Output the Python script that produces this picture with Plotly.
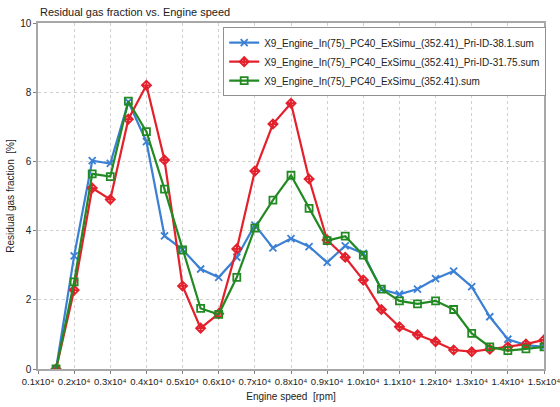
import plotly.graph_objects as go

# Engine speed sample points [rpm]
speed = [1500, 2000, 2500, 3000, 3500, 4000, 4500, 5000, 5500, 6000, 6500, 7000,
         7500, 8000, 8500, 9000, 9500, 10000, 10500, 11000, 11500, 12000, 12500,
         13000, 13500, 14000, 14500, 15000]

# Residual gas fraction [%] per configuration
rgf_pri_38_1 = [0.0, 3.27, 6.02, 5.94, 7.72, 6.57, 3.85, 3.45, 2.89, 2.65, 3.23, 4.16,
                3.50, 3.77, 3.54, 3.08, 3.56, 3.34, 2.30, 2.16, 2.31, 2.61, 2.83,
                2.38, 1.51, 0.86, 0.69, 0.64]
rgf_pri_31_75 = [0.0, 2.28, 5.23, 4.90, 7.22, 8.20, 6.04, 2.40, 1.18, 1.60, 3.47, 5.72,
                 7.08, 7.68, 5.49, 3.73, 3.23, 2.57, 1.72, 1.22, 0.99, 0.79, 0.55,
                 0.50, 0.57, 0.64, 0.72, 0.84]
rgf_base = [0.0, 2.52, 5.64, 5.56, 7.74, 6.86, 5.20, 3.44, 1.75, 1.58, 2.65, 4.07,
            4.88, 5.60, 4.64, 3.71, 3.84, 3.29, 2.31, 1.97, 1.88, 1.97, 1.72,
            1.03, 0.64, 0.53, 0.58, 0.64]

series_names = [
    "X9_Engine_In(75)_PC40_ExSimu_(352.41)_Pri-ID-38.1.sum",
    "X9_Engine_In(75)_PC40_ExSimu_(352.41)_Pri-ID-31.75.sum",
    "X9_Engine_In(75)_PC40_ExSimu_(352.41).sum",
]

x_tick_vals = [1000 * k for k in range(1, 16)]
x_tick_text = [f"{k / 10:.1f}x10\u2074" for k in range(1, 16)]
y_tick_vals = [0, 2, 4, 6, 8, 10]

FONT = "Liberation Sans, Arial, sans-serif"

fig = go.Figure()
styles = [
    (rgf_pri_38_1, "#3b80d4", "x-thin-open", 7),
    (rgf_pri_31_75, "#e3202b", "diamond-cross-open", 7),
    (rgf_base, "#238a23", "square-open", 7),
]
for (vals, color, symbol, size), name in zip(styles, series_names):
    fig.add_trace(go.Scatter(
        x=speed, y=vals, name=name, mode="lines+markers",
        line=dict(color=color, width=2.2),
        marker=dict(symbol=symbol, size=size, color=color,
                    line=dict(color=color, width=1.8)),
    ))

axis_common = dict(
    showline=True, linecolor="#a8a8a8", linewidth=1.5, mirror=True,
    showgrid=True, gridcolor="#d0d0d0", griddash="dot", gridwidth=1,
    ticks="outside", ticklen=3, tickcolor="#808080",
    zeroline=False, automargin=False, ticklabeloverflow="allow",
)

fig.update_layout(
    width=560, height=407,
    margin=dict(l=38, r=16, t=23, b=38),
    paper_bgcolor="white", plot_bgcolor="white",
    font=dict(family=FONT, size=10, color="#222"),
    title=dict(text="Residual gas fraction vs. Engine speed",
               x=40 / 560, xanchor="left", xref="container",
               y=1 - 12 / 407, yanchor="middle", yref="container",
               font=dict(family=FONT, size=11, color="#222")),
    xaxis=dict(range=[1000, 15000], tickvals=x_tick_vals, ticktext=x_tick_text,
               tickangle=0,
               tickfont=dict(family=FONT, size=9.5, color="#222"),
               title=dict(text="Engine speed  [rpm]", standoff=7,
                          font=dict(family=FONT, size=10, color="#222")),
               **axis_common),
    yaxis=dict(range=[0, 10], tickvals=y_tick_vals,
               tickfont=dict(family=FONT, size=10, color="#222"),
               title=dict(text="Residual gas fraction  [%]", standoff=4,
                          font=dict(family=FONT, size=10, color="#222")),
               **axis_common),
    legend=dict(x=0.366, y=0.988, xanchor="left", yanchor="top",
                bgcolor="white", bordercolor="#909090", borderwidth=1,
                font=dict(family=FONT, size=10, color="#222"),
                tracegroupgap=0),
    showlegend=True,
)

fig.write_html("out.html")
